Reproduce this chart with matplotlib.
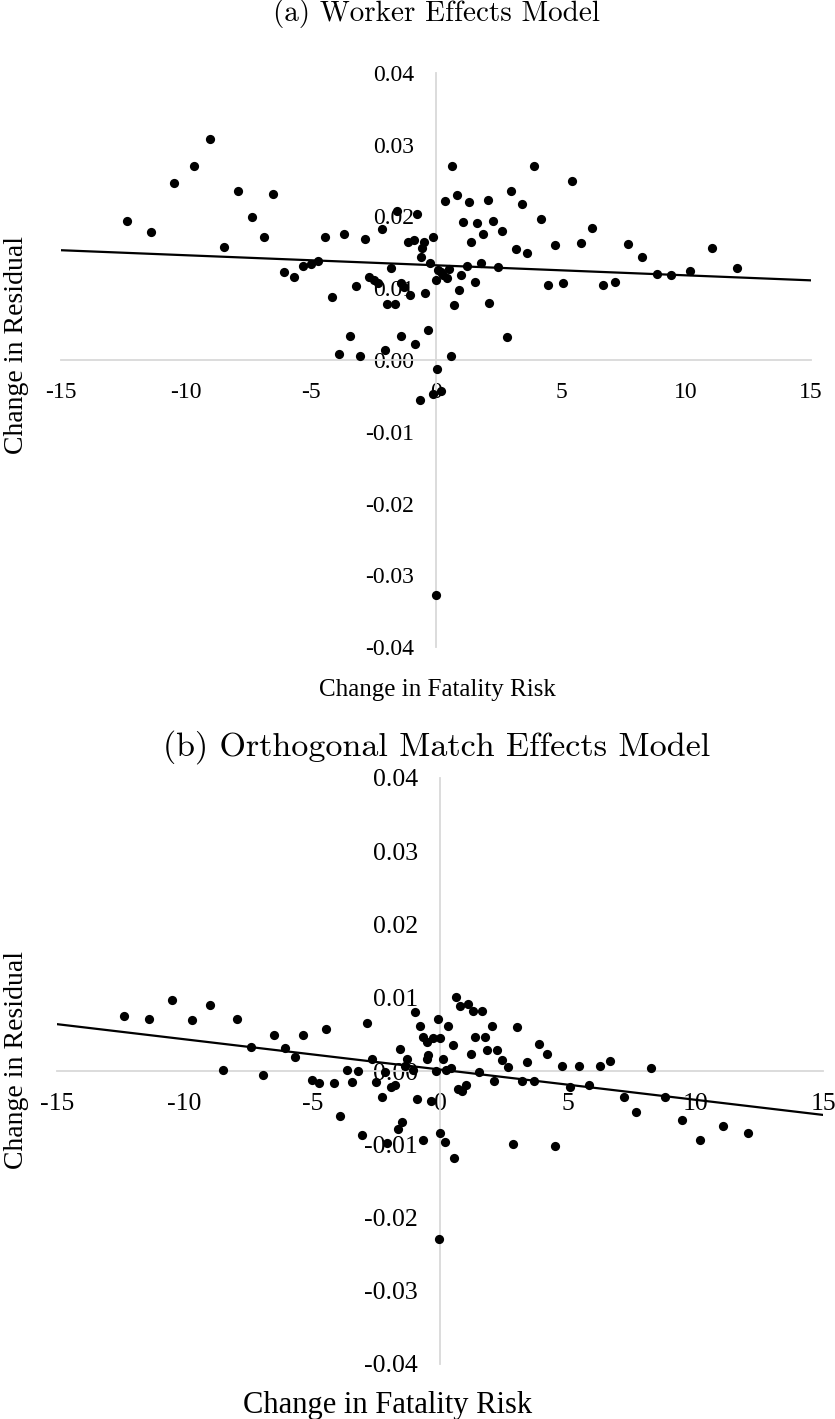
import numpy as np
import matplotlib
matplotlib.use("Agg")
import matplotlib.pyplot as plt
from matplotlib.ticker import FixedLocator, FixedFormatter

# ---------------------------------------------------------------
# (a) Worker Effects Model: change in fatality risk vs residual
# ---------------------------------------------------------------
risk_a = [-12.35, -11.39, -10.49, -9.67, -9.04, -7.93, -6.51, -7.36, -6.90, -8.46,
          -6.08, -5.68, -5.31, -5.02, -4.71, -4.45, -4.18, -3.67, -3.21, -2.84,
          -2.68, -2.50, -2.31, -2.15, -1.79, -1.57, -1.96, -1.63, -1.41, -1.27,
          -1.06, -0.77, -1.14, -0.90, -0.61, -0.57, -0.48, -0.11, -3.45, -3.89,
          -3.03, -2.06, -1.41, -0.84, -0.64, 0.64, 3.92, 5.43, 0.82, 0.36,
          1.31, 2.06, 3.01, 3.43, 4.20, 1.09, 1.63, 2.27, 1.86, 2.64,
          6.25, 1.41, 3.19, 3.64, 4.74, 5.79, 7.68, 8.22, 11.05, 12.02,
          8.82, 9.41, 10.15, 6.67, 7.17, 4.47, 5.07, -0.24, 0.09, 0.20,
          0.53, 0.00, 0.45, 0.27, 1.22, 1.78, 2.46, 1.00, 1.54, 0.90,
          -0.44, 0.72, 2.12, -0.33, 2.83, 0.58, 0.03, -0.13, 0.19, -0.01]
resid_a = [0.0194, 0.0179, 0.0247, 0.0270, 0.0308, 0.0235, 0.0231, 0.0199, 0.0172, 0.0157,
           0.0122, 0.0116, 0.0131, 0.0134, 0.0138, 0.0172, 0.0088, 0.0176, 0.0103, 0.0168,
           0.0115, 0.0112, 0.0108, 0.0183, 0.0128, 0.0208, 0.0078, 0.0078, 0.0107, 0.0102,
           0.0091, 0.0204, 0.0165, 0.0167, 0.0144, 0.0156, 0.0165, 0.0172, 0.0034, 0.0008,
           0.0005, 0.0014, 0.0034, 0.0022, -0.0056, 0.0270, 0.0270, 0.0250, 0.0230, 0.0221,
           0.0220, 0.0223, 0.0235, 0.0218, 0.0197, 0.0192, 0.0191, 0.0194, 0.0176, 0.0180,
           0.0184, 0.0164, 0.0155, 0.0149, 0.0160, 0.0163, 0.0162, 0.0144, 0.0156, 0.0128,
           0.0120, 0.0118, 0.0124, 0.0104, 0.0109, 0.0104, 0.0107, 0.0135, 0.0126, 0.0122,
           0.0127, 0.0112, 0.0114, 0.0119, 0.0131, 0.0135, 0.0130, 0.0118, 0.0109, 0.0098,
           0.0094, 0.0076, 0.0079, 0.0042, 0.0032, 0.0005, -0.0013, -0.0048, -0.0043, -0.0327]

# ---------------------------------------------------------------
# (b) Orthogonal Match Effects Model
# ---------------------------------------------------------------
risk_b = [-12.38, -11.41, -10.50, -9.71, -9.02, -7.95, -8.50, -7.39, -6.93, -6.51,
          -6.09, -5.69, -5.36, -5.03, -4.73, -4.47, -4.16, -3.64, -3.46, -3.23,
          -3.92, -3.05, -2.86, -2.67, -2.50, -2.29, -2.16, -2.07, -1.93, -1.76,
          -1.63, -1.48, -1.57, -1.28, -0.96, -0.79, -1.37, -1.05, -0.90, -0.35,
          -0.08, 0.33, -0.68, -0.52, -0.29, 0.00, 0.52, 0.61, 0.78, 1.11,
          1.31, 1.63, 2.05, 3.01, 1.37, 1.76, 1.86, 2.22, 2.42, 2.65,
          1.22, -0.46, -0.52, 0.10, -0.16, 0.24, 0.42, 1.54, 2.13, 3.20,
          3.67, 0.72, 0.85, 1.02, 3.89, 4.18, 3.42, 4.78, 5.44, 6.26,
          6.67, 8.25, 5.11, 5.84, 7.19, 7.69, 8.82, 9.46, 10.20, 11.07,
          12.05, 0.01, 0.20, -0.68, 2.85, 4.50, 0.56, -0.03]
resid_b = [0.0075, 0.0071, 0.0097, 0.0070, 0.0090, 0.0071, 0.0002, 0.0033, -0.0006, 0.0049,
           0.0032, 0.0019, 0.0049, -0.0012, -0.0016, 0.0057, -0.0016, 0.0002, -0.0015, 0.0000,
           -0.0061, -0.0087, 0.0066, 0.0016, -0.0015, -0.0036, -0.0001, -0.0098, -0.0022, -0.0019,
           -0.0079, -0.0070, 0.0030, 0.0016, 0.0080, 0.0061, 0.0007, 0.0001, -0.0038, -0.0041,
           0.0071, 0.0061, 0.0047, 0.0040, 0.0045, 0.0045, 0.0036, 0.0101, 0.0089, 0.0091,
           0.0082, 0.0082, 0.0062, 0.0060, 0.0047, 0.0047, 0.0029, 0.0029, 0.0015, 0.0006,
           0.0023, 0.0022, 0.0016, 0.0017, 0.0000, 0.0001, 0.0004, -0.0002, -0.0013, -0.0014,
           -0.0013, -0.0024, -0.0027, -0.0019, 0.0037, 0.0023, 0.0012, 0.0007, 0.0007, 0.0007,
           0.0013, 0.0004, -0.0022, -0.0019, -0.0035, -0.0056, -0.0035, -0.0067, -0.0094, -0.0075,
           -0.0085, -0.0084, -0.0097, -0.0094, -0.0100, -0.0102, -0.0119, -0.0230]

# linear trend lines: (intercept, slope)
trend_a = (0.0132, -0.00014)
trend_b = (0.0002, -0.000413)

x_ticks = [-15, -10, -5, 0, 5, 10, 15]
x_labels = ["-15", "-10", "-5", "0", "5", "10", "15"]
y_ticks = [-0.04, -0.03, -0.02, -0.01, 0.00, 0.01, 0.02, 0.03, 0.04]
y_labels = ["-0.04", "-0.03", "-0.02", "-0.01", "0.00", "0.01", "0.02", "0.03", "0.04"]

W, H = 835, 1419
fig = plt.figure(figsize=(W / 100, H / 100), dpi=100)

serif = "Liberation Serif"


def panel(rect, risk, resid, trend, fs):
    ax = fig.add_axes(rect)
    ax.set_xlim(-15, 15)
    ax.set_ylim(-0.04, 0.04)
    for s in ["top", "right"]:
        ax.spines[s].set_visible(False)
    for s in ["left", "bottom"]:
        ax.spines[s].set_position(("data", 0))
        ax.spines[s].set_color("#d9d9d9")
        ax.spines[s].set_linewidth(1.3)
    ax.xaxis.set_major_locator(FixedLocator(x_ticks))
    ax.xaxis.set_major_formatter(FixedFormatter(x_labels))
    ax.yaxis.set_major_locator(FixedLocator(y_ticks))
    ax.yaxis.set_major_formatter(FixedFormatter(y_labels))
    ax.tick_params(length=0, pad=16, labelsize=fs)
    for lab in ax.get_xticklabels() + ax.get_yticklabels():
        lab.set_fontfamily(serif)
    ax.scatter(risk, resid, s=44, color="black", zorder=3, linewidths=0)
    xs = np.array([-15, 15])
    ax.plot(xs, trend[0] + trend[1] * xs, color="black", lw=1.6, zorder=4)
    ax.patch.set_visible(False)
    return ax


def fx(px):
    return px / W


def fy(py):
    return 1 - py / H


# panel (a): x -15..15 at px 61..811, y 0.04..-0.04 at px 73..647
ax_a = panel([fx(61), fy(647), fx(811) - fx(61), fy(73) - fy(647)],
             risk_a, resid_a, trend_a, 17)
# panel (b): x -15..15 at px 57..823, y 0.04..-0.04 at px 778..1364
ax_b = panel([fx(57), fy(1364), fx(823) - fx(57), fy(778) - fy(1364)],
             risk_b, resid_b, trend_b, 18.5)

fig.text(fx(437), fy(13), "(a) Worker Effects Model", family="cmr10",
         fontsize=21, ha="center", va="center")
fig.text(fx(437), fy(747), "(b) Orthogonal Match Effects Model", family="cmr10",
         fontsize=24.5, ha="center", va="center")

fig.text(fx(437), fy(690), "Change in Fatality Risk", family=serif,
         fontsize=18, ha="center", va="center")
fig.text(fx(17), fy(345), "Change in Residual", family=serif,
         fontsize=20, ha="center", va="center", rotation=90)

fig.text(fx(388), fy(1405), "Change in Fatality Risk", family=serif,
         fontsize=22, ha="center", va="center")
fig.text(fx(17), fy(1060), "Change in Residual", family=serif,
         fontsize=20, ha="center", va="center", rotation=90)

fig.savefig("out.png", dpi=100)
